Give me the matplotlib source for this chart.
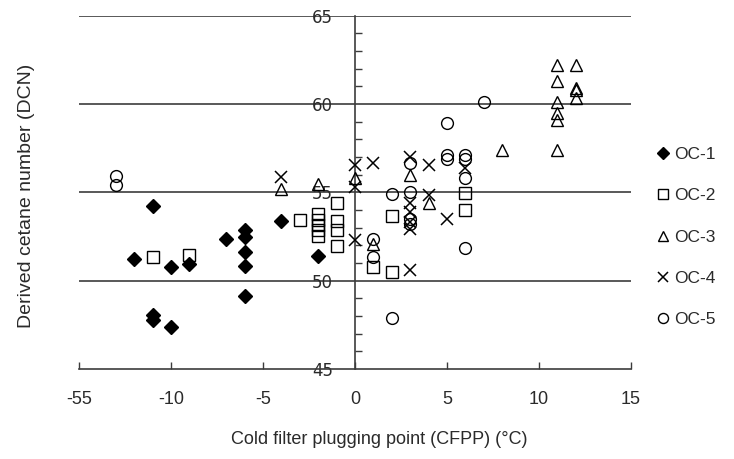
import numpy as np
import matplotlib
matplotlib.use("Agg")
import matplotlib.pyplot as plt
from matplotlib.ticker import MultipleLocator

plt.rcParams['font.family'] = ['Liberation Sans', 'DejaVu Sans']

# OC-1 .. OC-5 : CFPP (x) vs DCN (y)
oc1_x = [-12, -11, -11, -11, -10, -10, -9, -7, -6, -6, -6, -6, -6, -4, -2]
oc1_y = [51.2, 54.2, 48.05, 47.75, 50.75, 47.35, 50.95, 52.35, 52.85, 52.45, 51.65, 50.85, 49.15, 53.35, 51.4]

oc2_x = [-11, -9, -3, -2, -2, -2, -2, -2, -1, -1, -1, -1, 1, 2, 2, 6, 6]
oc2_y = [51.35, 51.45, 53.45, 53.75, 53.45, 53.15, 52.85, 52.55, 54.4, 53.4, 52.85, 51.95, 50.75, 53.65, 50.5, 54.95, 54.0]

oc3_x = [-4, -2, 0, 1, 3, 4, 8, 11, 11, 11, 11, 11, 11, 12, 12, 12, 12]
oc3_y = [55.2, 55.5, 55.8, 52.1, 56.0, 54.4, 57.4, 62.2, 61.3, 60.1, 59.5, 59.1, 57.4, 62.2, 60.9, 60.8, 60.35]

oc4_x = [-4, 0, 0, 0, 1, 3, 3, 3, 3, 3, 3, 4, 4, 5, 6]
oc4_y = [55.85, 56.55, 55.3, 52.3, 56.65, 57.0, 54.4, 53.9, 53.3, 52.9, 50.6, 56.55, 54.85, 53.5, 56.4]

oc5_x = [-13, -13, 1, 1, 2, 2, 3, 3, 3, 3, 5, 5, 5, 6, 6, 6, 6, 7]
oc5_y = [55.9, 55.4, 52.35, 51.35, 54.9, 47.9, 56.65, 55.0, 53.5, 53.2, 58.9, 57.1, 56.9, 57.1, 56.9, 55.8, 51.85, 60.1]

xticks = [-15, -10, -5, 0, 5, 10, 15]
xtick_labels = ['-55', '-10', '-5', '0', '5', '10', '15']
yticks = [45, 50, 55, 60, 65]

line_col = '#3c3c3c'
text_col = '#2a2a2a'

fig = plt.figure(figsize=(7.34, 4.59), dpi=100)
ax = fig.add_axes([79/734, 1-369/459, 552/734, 353.3/459])

ax.set_xlim(-15, 15)
ax.set_ylim(45, 65)

for v in yticks[1:]:
    ax.axhline(v, color=line_col, lw=1.2, zorder=1)

ax.plot(oc1_x, oc1_y, 'D', ms=7.5, mfc='black', mec='black', label='OC-1', zorder=3)
ax.plot(oc2_x, oc2_y, 's', ms=8, mfc='none', mec='black', mew=1, label='OC-2', zorder=3)
ax.plot(oc3_x, oc3_y, '^', ms=9, mfc='none', mec='black', mew=1, label='OC-3', zorder=3)
ax.plot(oc4_x, oc4_y, 'x', ms=8.5, mec='black', mew=1.1, label='OC-4', zorder=3)
ax.plot(oc5_x, oc5_y, 'o', ms=8.5, mfc='none', mec='black', mew=1, label='OC-5', zorder=3)

ax.spines['top'].set_visible(False)
ax.spines['right'].set_visible(False)
ax.spines['left'].set_position(('data', 0))
ax.spines['left'].set_color(line_col)
ax.spines['bottom'].set_color(line_col)
ax.spines['left'].set_linewidth(1.2)
ax.spines['bottom'].set_linewidth(1.2)

ax.set_xticks(xticks)
ax.set_xticklabels(xtick_labels, fontsize=13, color=text_col)
ax.tick_params(axis='x', direction='in', length=5, width=1, color=line_col, pad=16)

ax.set_yticks(yticks)
ax.set_yticklabels([str(v) for v in yticks], fontsize=12, color=text_col, family='DejaVu Sans')
ax.yaxis.set_minor_locator(MultipleLocator(1))
ax.tick_params(axis='y', which='major', direction='in', length=0, pad=16)
ax.tick_params(axis='y', which='minor', direction='in', length=5, width=1, color=line_col)

fig.text(379/734, 1-440/459, 'Cold filter plugging point (CFPP) (°C)', fontsize=13,
         color=text_col, ha='center', va='center')
fig.text(27/734, 1-196/459, 'Derived cetane number (DCN)', rotation=90, fontsize=14,
         color=text_col, ha='center', va='center')

leg = fig.legend(loc='center left', bbox_to_anchor=(641/734, 1-237/459), frameon=False,
                 fontsize=12.5, handlelength=0.7, handletextpad=0.3, labelspacing=1.5,
                 markerscale=0.85)
for t in leg.get_texts():
    t.set_color(text_col)

fig.savefig('out.png', dpi=100)
